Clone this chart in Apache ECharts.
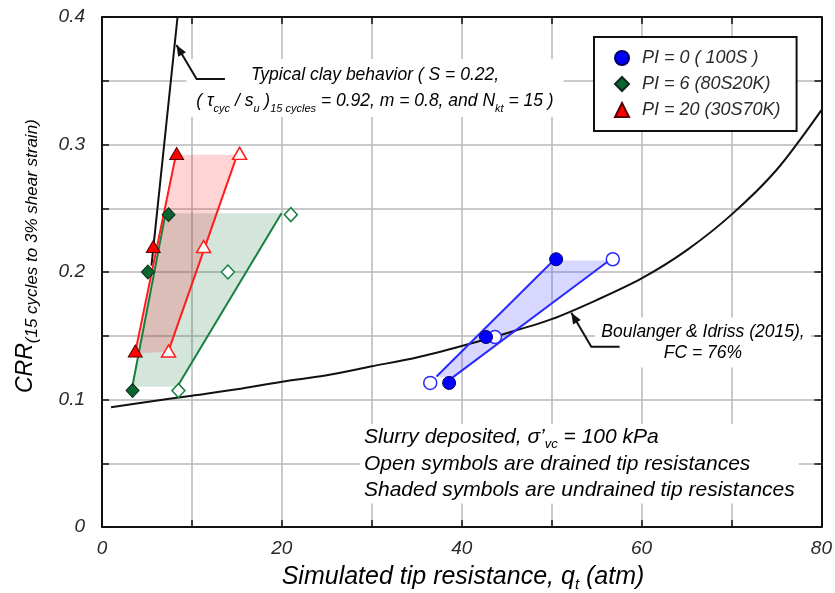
<!DOCTYPE html>
<html>
<head>
<meta charset="utf-8">
<script src="https://cdn.jsdelivr.net/npm/echarts@6/dist/echarts.min.js"></script>
<style>
  html, body { margin: 0; padding: 0; background: #fff; }
  #chart { width: 835px; height: 593px; }
</style>
</head>
<body>
<div id="chart"></div>
<script>
// Boulanger & Idriss (2015) triggering curve, FC = 76 %
const biQt  = [1, 5, 10, 15, 20, 25, 30, 35, 40, 45, 50, 55, 60, 65, 70, 75, 80];
const biCrr = [0.094, 0.098, 0.103, 0.108, 0.114, 0.119, 0.126, 0.133, 0.142, 0.152,
               0.163, 0.178, 0.195, 0.217, 0.245, 0.280, 0.327];

// typical clay behaviour line
const clayQt  = [5.5, 8.4];
const clayCrr = [0.205, 0.4];

// PI = 0 (100S)
const pi0Crr         = [0.113, 0.149, 0.210];
const pi0QtUndrained = [38.6, 42.7, 50.5];
const pi0QtDrained   = [36.5, 43.7, 56.8];
const pi0FitUQt  = [37.2, 50.2];   const pi0FitUCrr = [0.118, 0.209];
const pi0FitDQt  = [38.85, 56.4];  const pi0FitDCrr = [0.1166, 0.209];

// PI = 6 (80S20K)
const pi6Crr         = [0.107, 0.200, 0.245];
const pi6QtUndrained = [3.4, 5.1, 7.4];
const pi6QtDrained   = [8.5, 14.0, 21.0];
const pi6FitUQt  = [3.37, 7.07];   const pi6FitUCrr = [0.110, 0.246];
const pi6FitDQt  = [8.37, 19.96];  const pi6FitDCrr = [0.110, 0.246];

// PI = 20 (30S70K)
const pi20Crr         = [0.138, 0.220, 0.293];
const pi20QtUndrained = [3.7, 5.7, 8.3];
const pi20QtDrained   = [7.4, 11.3, 15.3];
const pi20FitUQt = [3.67, 8.22];   const pi20FitUCrr = [0.136, 0.292];
const pi20FitDQt = [7.37, 15.04];  const pi20FitDCrr = [0.1375, 0.292];

const FONT = '"Liberation Sans", Arial, Helvetica, sans-serif';
const TXT = '#2a2a2a';

const pairs = (xs, ys) => xs.map((x, i) => [x, ys[i]]);

const groups = [
  { name: 'PI = 0 ( 100S )', crr: pi0Crr, qtU: pi0QtUndrained, qtD: pi0QtDrained,
    fitU: pairs(pi0FitUQt, pi0FitUCrr), fitD: pairs(pi0FitDQt, pi0FitDCrr),
    symbol: 'circle', size: 13, fill: '#0000ff', edge: '#000060', line: '#2a2aff',
    shade: 'rgba(40,40,255,0.19)' },
  { name: 'PI = 6 (80S20K)', crr: pi6Crr, qtU: pi6QtUndrained, qtD: pi6QtDrained,
    fitU: pairs(pi6FitUQt, pi6FitUCrr), fitD: pairs(pi6FitDQt, pi6FitDCrr),
    symbol: 'diamond', size: [13, 14], fill: '#0a6630', edge: '#0b2a17', line: '#17803f',
    shade: 'rgba(0,100,50,0.17)' },
  { name: 'PI = 20 (30S70K)', crr: pi20Crr, qtU: pi20QtUndrained, qtD: pi20QtDrained,
    fitU: pairs(pi20FitUQt, pi20FitUCrr), fitD: pairs(pi20FitDQt, pi20FitDCrr),
    symbol: 'triangle', size: [14, 12], fill: '#ff0000', edge: '#5a0000', line: '#ff1c1c',
    shade: 'rgba(255,0,0,0.17)' }
];

const series = [];

// shaded band between the undrained and drained trend lines
groups.forEach(g => {
  const verts = [g.fitU[0], g.fitU[1], g.fitD[1], g.fitD[0]];
  series.push({
    type: 'custom', silent: true, z: 1,
    data: verts,
    renderItem: (params, api) => {
      if (params.dataIndex !== 0) return null;
      return {
        type: 'polygon',
        shape: { points: verts.map(v => api.coord(v)) },
        style: { fill: g.shade }
      };
    }
  });
});

// trend lines
groups.forEach(g => {
  [g.fitU, g.fitD].forEach(d => series.push({
    type: 'line', data: d, symbol: 'none', silent: true, z: 3,
    lineStyle: { color: g.line, width: 2 }
  }));
});

// reference curves
series.push({
  type: 'line', data: pairs(biQt, biCrr), symbol: 'none', smooth: 0.3,
  silent: true, z: 2,
  lineStyle: { color: '#111', width: 2 }
});
series.push({
  type: 'line', data: pairs(clayQt, clayCrr), symbol: 'none', silent: true, z: 2,
  lineStyle: { color: '#111', width: 2 }
});

// drained (open) and undrained (filled) symbols
groups.forEach(g => {
  series.push({
    name: g.name + ' drained', type: 'scatter', data: pairs(g.qtD, g.crr),
    symbol: g.symbol, symbolSize: g.size, z: 5,
    itemStyle: { color: '#fff', borderColor: g.line, borderWidth: 1.5, opacity: 1 }
  });
  series.push({
    name: g.name, type: 'scatter', data: pairs(g.qtU, g.crr),
    symbol: g.symbol, symbolSize: g.size, z: 6,
    itemStyle: { color: g.fill, borderColor: g.edge, borderWidth: 1, opacity: 1 }
  });
});

const tickStyle = { inside: true, length: 7, lineStyle: { color: '#111', width: 1.5 } };
const frameLine = { show: true, onZero: false, lineStyle: { color: '#111', width: 2 } };
const tickLabel = { fontSize: 19, fontStyle: 'italic', fontFamily: FONT, color: TXT };

const option = {
  animation: false,
  backgroundColor: '#fff',
  grid: { left: 102, right: 12, top: 17, bottom: 66 },
  xAxis: [
    { type: 'value', min: 0, max: 80, interval: 10, position: 'bottom',
      axisLine: frameLine, axisTick: tickStyle,
      axisLabel: Object.assign({ margin: 12,
        formatter: v => (Math.round(v) % 20 === 0 ? String(Math.round(v)) : '') }, tickLabel),
      splitLine: { show: true, lineStyle: { color: '#b9b9b9', width: 1.5 } } },
    { type: 'value', min: 0, max: 80, interval: 10, position: 'top',
      axisLine: frameLine, axisTick: tickStyle, axisLabel: { show: false },
      splitLine: { show: false } }
  ],
  yAxis: [
    { type: 'value', min: 0, max: 0.4, interval: 0.05, position: 'left',
      axisLine: frameLine, axisTick: tickStyle,
      axisLabel: Object.assign({ margin: 17,
        formatter: v => {
          const h = Math.round(v * 100);
          if (h % 10 !== 0) return '';
          return h === 0 ? '0' : (h / 100).toFixed(1);
        } }, tickLabel),
      splitLine: { show: true, lineStyle: { color: '#b9b9b9', width: 1.5 } } },
    { type: 'value', min: 0, max: 0.4, interval: 0.05, position: 'right',
      axisLine: frameLine, axisTick: tickStyle, axisLabel: { show: false },
      splitLine: { show: false } }
  ],
  legend: {
    data: groups.map(g => g.name),
    orient: 'vertical', left: 594, top: 37,
    padding: [12, 16, 12, 20], itemGap: 8, itemWidth: 14, itemHeight: 14,
    backgroundColor: '#fff', borderColor: '#111', borderWidth: 2, borderRadius: 0,
    selectedMode: false,
    formatter: name => '{t|' + name + '}',
    textStyle: {
      fontSize: 18, fontStyle: 'italic', fontFamily: FONT, color: TXT,
      rich: { t: { fontSize: 18, fontStyle: 'italic', fontFamily: FONT, color: TXT,
                   padding: [0, 0, 0, 8] } }
    }
  },
  series: series
};

const chart = echarts.init(document.getElementById('chart'));
chart.setOption(option);

// annotations: leader arrows in data coordinates, text blocks with white backing
const px = p => chart.convertToPixel({ xAxisIndex: 0, yAxisIndex: 0 }, p);

function leader(pts) {
  const p = pts.map(px);
  const tip = p[0], knee = p[1];
  const ang = Math.atan2(tip[1] - knee[1], tip[0] - knee[0]);
  const L = 11, W = 4.5;
  const bx = tip[0] - L * Math.cos(ang), by = tip[1] - L * Math.sin(ang);
  const nx = -Math.sin(ang) * W, ny = Math.cos(ang) * W;
  return [
    { type: 'polyline', z: 60, silent: true, shape: { points: p },
      style: { stroke: '#111', lineWidth: 2, fill: 'none' } },
    { type: 'polygon', z: 60, silent: true,
      shape: { points: [tip, [bx + nx, by + ny], [bx - nx, by - ny]] },
      style: { fill: '#111' } }
  ];
}

const rich = (size, sub, lh) => ({
  n: { fontSize: size, fontStyle: 'italic', fontFamily: FONT, color: TXT, lineHeight: lh },
  s: { fontSize: sub, fontStyle: 'italic', fontFamily: FONT, color: TXT, lineHeight: lh,
       verticalAlign: 'bottom' }
});

const graphics = [
  { type: 'text', z: 50, silent: true, x: 375, y: 88,
    style: {
      text: '{n|Typical clay behavior ( S = 0.22,}\n' +
            '{n|( τ}{s|cyc}{n| / s}{s|u}{n| )}{s|15 cycles}{n| = 0.92, m = 0.8, and N}{s|kt}{n| = 15 )}',
      rich: rich(17.5, 11, 26), align: 'center', verticalAlign: 'middle',
      backgroundColor: '#fff', padding: [3, 10]
    } },
  { type: 'text', z: 50, silent: true, x: 703, y: 342.5,
    style: {
      text: '{n|Boulanger & Idriss (2015),}\n{n|FC = 76%}',
      rich: rich(17.5, 11, 21), align: 'center', verticalAlign: 'middle',
      backgroundColor: '#fff', padding: [4, 6]
    } },
  { type: 'text', z: 50, silent: true, x: 360, y: 424,
    style: {
      text: '{n|Slurry deposited, σ’}{s|vc}{n| = 100 kPa}\n' +
            '{n|Open symbols are drained tip resistances}\n' +
            '{n|Shaded symbols are undrained tip resistances}',
      rich: rich(21, 13, 26.5), align: 'left', verticalAlign: 'top',
      backgroundColor: '#fff', padding: [0, 4]
    } },
  { type: 'text', z: 50, silent: true, x: 26, y: 393, rotation: Math.PI / 2,
    style: {
      text: '{n|CRR}{s|(15 cycles to 3% shear strain)}',
      rich: rich(23, 17, 30), align: 'left', verticalAlign: 'middle'
    } },
  { type: 'text', z: 50, silent: true, x: 463, y: 577,
    style: {
      text: '{n|Simulated tip resistance, q}{s|t}{n| (atm)}',
      rich: rich(25, 15, 30), align: 'center', verticalAlign: 'middle'
    } }
].concat(
  leader([[8.28, 0.378], [10.52, 0.3514], [13.67, 0.3514]]),
  leader([[52.19, 0.1681], [54.41, 0.1414], [57.56, 0.1414]])
);

chart.setOption({ graphic: graphics });
</script>
</body>
</html>
